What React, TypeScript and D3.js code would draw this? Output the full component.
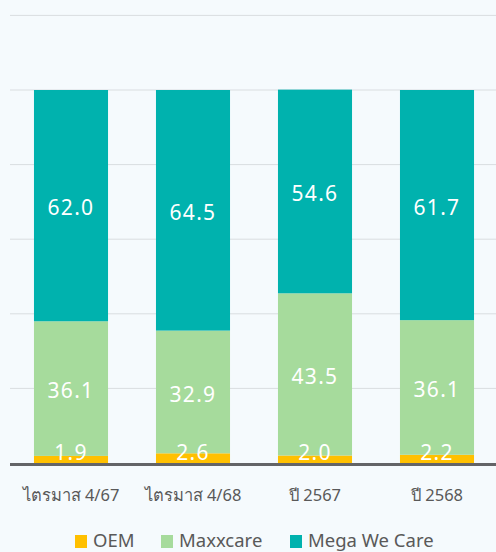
import React from "react";
import * as d3 from "d3";

const categories = ["ไตรมาส 4/67", "ไตรมาส 4/68", "ปี 2567", "ปี 2568"];
const seriesNames = ["OEM", "Maxxcare", "Mega We Care"];
const oem = [1.9, 2.6, 2.0, 2.2];
const maxxcare = [36.1, 32.9, 43.5, 36.1];
const megaWeCare = [62.0, 64.5, 54.6, 61.7];
const yTicks = [0, 20, 40, 60, 80, 100, 120];

const colors = ["#FFC000", "#A6DB9C", "#00B2AE"];

const W = 496;
const H = 552;
const margin = { left: 10, right: -2, top: 15.4, bottom: 89 };

export default function App() {
  const rows = categories.map((c, i) => ({
    cat: c,
    OEM: oem[i],
    Maxxcare: maxxcare[i],
    "Mega We Care": megaWeCare[i],
  }));
  const stacked = d3.stack<any>().keys(seriesNames)(rows);

  const x = d3
    .scaleBand<string>()
    .domain(categories)
    .range([margin.left, W - margin.right])
    .paddingInner(0.393)
    .paddingOuter(0.1965);
  const y = d3
    .scaleLinear()
    .domain([0, 120])
    .range([H - margin.bottom, margin.top]);

  const font = "'Noto Sans', 'DejaVu Sans', sans-serif";

  const legendX = [75, 161, 290];

  return (
    <svg
      width={W}
      height={H}
      style={{ position: "absolute", left: 0, top: 0, background: "#F5FAFD" }}
    >
      <rect x={0} y={0} width={W} height={H} fill="#F5FAFD" />
      {yTicks.slice(1).map((t) => (
        <line
          key={t}
          x1={margin.left}
          x2={W}
          y1={y(t)}
          y2={y(t)}
          stroke="#D9DDE0"
          strokeWidth={1}
        />
      ))}
      {stacked.map((s, si) => (
        <g key={s.key}>
          {s.map((d, i) => {
            const x0 = x(categories[i])!;
            return (
              <rect
                key={i}
                x={x0}
                y={y(d[1])}
                width={x.bandwidth()}
                height={y(d[0]) - y(d[1])}
                fill={colors[si]}
              />
            );
          })}
        </g>
      ))}
      {stacked.map((s, si) => (
        <g key={s.key + "-lbl"}>
          {s.map((d, i) => {
            const cx = x(categories[i])! + x.bandwidth() / 2;
            let cy = (y(d[0]) + y(d[1])) / 2 + 2;
            if (si === 0) cy = Math.min(cy, y(0) - 11);
            const v = d[1] - d[0];
            return (
              <text
                key={i}
                x={cx}
                y={cy}
                dy="0.36em"
                textAnchor="middle"
                fill="#FFFFFF"
                fontFamily={font}
                fontSize={21}
                letterSpacing={1.3}
              >
                {v.toFixed(1)}
              </text>
            );
          })}
        </g>
      ))}
      <line
        x1={margin.left}
        x2={W}
        y1={y(0) + 1.5}
        y2={y(0) + 1.5}
        stroke="#636467"
        strokeWidth={3}
      />
      {categories.map((c) => (
        <text
          key={c}
          x={x(c)! + x.bandwidth() / 2}
          y={501}
          textAnchor="middle"
          fill="#595959"
          fontFamily={font}
          fontSize={16.5}
        >
          {c}
        </text>
      ))}
      {seriesNames.map((n, i) => (
        <g key={n}>
          <rect x={legendX[i]} y={535} width={12} height={13} fill={colors[i]} />
          <text
            x={legendX[i] + 18}
            y={547}
            fill="#595959"
            fontFamily={font}
            fontSize={18.5}
          >
            {n}
          </text>
        </g>
      ))}
    </svg>
  );
}
